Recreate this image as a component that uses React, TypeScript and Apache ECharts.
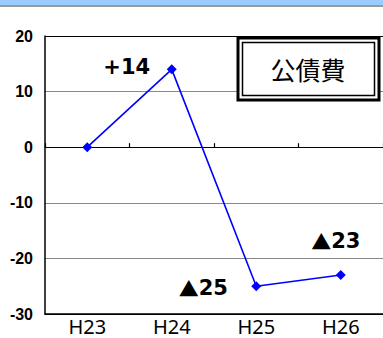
import React, { useEffect, useRef } from "react";
import * as echarts from "echarts";

const categories = ["H23", "H24", "H25", "H26"];
const values = [0, 14, -25, -23];
const annotations = ["", "+14", "{t|▲}25", "{t|▲}23"];
const annotationOffsets: [number, number][] = [[0, 0], [-45, 3], [-53, 7], [-5, -29]];
const yTicks = [-30, -20, -10, 0, 10, 20];
const legendName = "公債費";

export default function App() {
  const ref = useRef<HTMLDivElement>(null);
  useEffect(() => {
    const chart = echarts.init(ref.current!, undefined, { renderer: "svg" });
    chart.setOption({
      animation: false,
      backgroundColor: "#ffffff",
      grid: { left: 45, top: 36, width: 340, bottom: 24 },
      xAxis: [
        {
          type: "category",
          data: categories,
          boundaryGap: true,
          position: "bottom",
          axisLine: { onZero: false, lineStyle: { color: "#000", width: 1.5 } },
          axisTick: { show: false },
          axisLabel: { fontFamily: "Noto Sans", fontSize: 20, lineHeight: 19, color: "#000", margin: 3 },
        },
        {
          type: "category",
          data: categories,
          boundaryGap: true,
          position: "bottom",
          axisLine: { onZero: true, lineStyle: { color: "#000", width: 1.2 } },
          axisTick: { show: true, inside: true, length: 4, lineStyle: { color: "#000", width: 1.2 } },
          axisLabel: { show: false },
        },
      ],
      yAxis: {
        type: "value",
        min: yTicks[0],
        max: yTicks[yTicks.length - 1],
        interval: 10,
        axisLine: { show: true, lineStyle: { color: "#000", width: 1.5 } },
        axisTick: { show: false },
        axisLabel: {
          fontFamily: "Liberation Sans Narrow, Liberation Sans",
          fontWeight: "bold",
          fontSize: 16,
          color: "#000",
          margin: 12,
        },
        splitLine: {
          show: true,
          lineStyle: { color: ["#000", "#888", "#888", "#000", "#888", "#000"], width: 1.2 },
        },
      },
      series: [
        {
          type: "line",
          xAxisIndex: 0,
          data: values.map((v, i) => ({
            value: v,
            label: {
              show: annotations[i] !== "",
              formatter: annotations[i],
              position: "top",
              distance: 0,
              align: "center",
              verticalAlign: "middle",
              offset: annotationOffsets[i],
            },
          })),
          symbol: "diamond",
          symbolSize: 10,
          lineStyle: { color: "#0000ff", width: 1.6 },
          itemStyle: { color: "#0000ff" },
          label: {
            fontFamily: "DejaVu Sans",
            fontWeight: "bold",
            fontSize: 21,
            color: "#000",
            rich: {
              t: { fontFamily: "Noto Sans CJK JP", fontWeight: "bold", fontSize: 20, color: "#000" },
            },
          },
          z: 5,
        },
      ],
      graphic: [
        { type: "rect", shape: { x: 0, y: 0, width: 383, height: 5 }, style: { fill: "#99ccff" }, z: 10 },
        { type: "rect", shape: { x: 0, y: 5, width: 383, height: 2 }, style: { fill: "#9a9a9a" }, z: 10 },
        {
          type: "rect",
          shape: { x: 238, y: 38, width: 141, height: 62 },
          style: { fill: "#fff", stroke: "#000", lineWidth: 3 },
          z: 10,
        },
        {
          type: "rect",
          shape: { x: 242.5, y: 42.5, width: 132, height: 53 },
          style: { fill: "#fff", stroke: "#000", lineWidth: 1.5 },
          z: 11,
        },
        {
          type: "text",
          x: 308,
          y: 69,
          style: {
            text: legendName,
            fontFamily: "Noto Sans CJK JP",
            fontSize: 25,
            fill: "#000",
            align: "center",
            verticalAlign: "middle",
          },
          z: 12,
        },
      ],
    });
    return () => chart.dispose();
  }, []);
  return (
    <div style={{ position: "fixed", left: 0, top: 0, width: 383, height: 338, background: "#fff" }}>
      <div ref={ref} style={{ width: 383, height: 338 }} />
    </div>
  );
}
